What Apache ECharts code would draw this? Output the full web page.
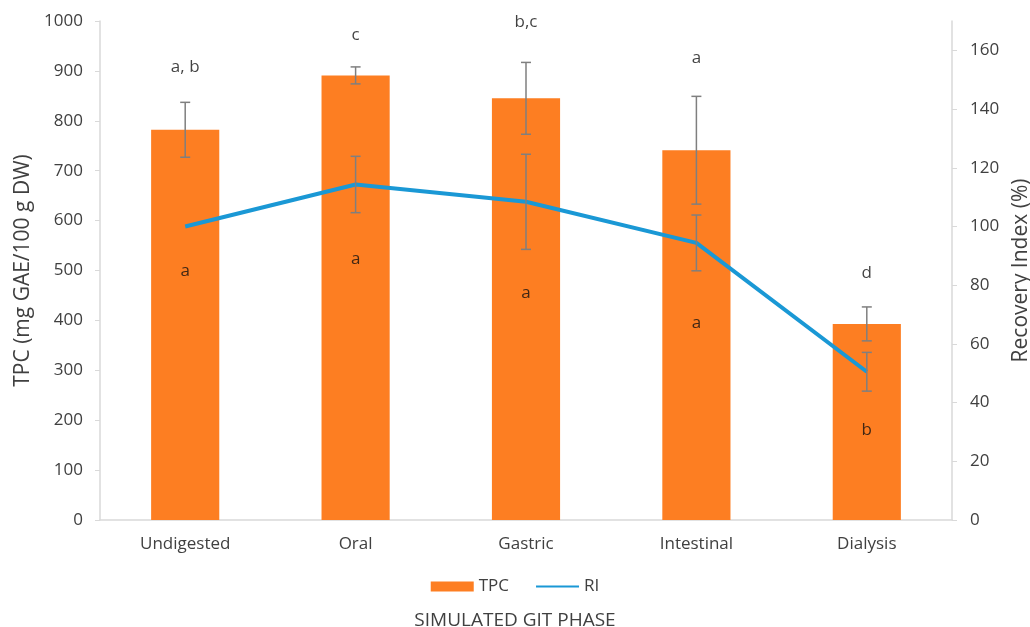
<!DOCTYPE html>
<html>
<head>
<meta charset="utf-8">
<script src="https://cdn.jsdelivr.net/npm/echarts@6/dist/echarts.min.js"></script>
<style>
  html, body { margin: 0; padding: 0; background: #fff; }
  #chart { width: 1030px; height: 627px; }
</style>
</head>
<body>
<div id="chart"></div>
<script>
const phases = ["Undigested", "Oral", "Gastric", "Intestinal", "Dialysis"];
const tpc = [782, 891, 845, 741, 393];
const tpcErr = [55, 17, 72, 108, 34];
const ri = [100, 114.3, 108.4, 94.4, 50.5];
const riErr = [0, 9.6, 16.2, 9.5, 6.6];
const tpcLetters = ["a, b", "c", "b,c", "a", "d"];
const tpcLetterAt = [908, 972, 998, 925, 494];
const riLetters = ["a", "a", "a", "a", "b"];
const riLetterAt = [84.9, 88.8, 77.2, 67.0, 30.7];

const FONT = "Open Sans";
const TXT = "#404040";
const AXIS = "#d9d9d9";

const errData = (vals, errs) =>
  vals.map((v, i) => [i, v - errs[i], v + errs[i]]).filter((d, i) => errs[i] > 0);

// I-beam error bars
const errRender = (params, api) => {
  const x = api.value(0);
  const lo = api.coord([x, api.value(1)]);
  const hi = api.coord([x, api.value(2)]);
  const w = 5;
  const style = { stroke: "#7f7f7f", lineWidth: 1.5 };
  return {
    type: "group",
    children: [
      { type: "line", shape: { x1: lo[0], y1: lo[1], x2: hi[0], y2: hi[1] }, style },
      { type: "line", shape: { x1: lo[0] - w, y1: lo[1], x2: lo[0] + w, y2: lo[1] }, style },
      { type: "line", shape: { x1: hi[0] - w, y1: hi[1], x2: hi[0] + w, y2: hi[1] }, style },
    ],
  };
};

const letterSeries = (yIdx, at, letters) => ({
  type: "scatter",
  yAxisIndex: yIdx,
  symbolSize: 0,
  silent: true,
  z: 10,
  data: at.map((v, i) => [i, v]),
  label: {
    show: true,
    position: "inside",
    formatter: (p) => letters[p.dataIndex],
    color: "#111",
    fontFamily: FONT,
    fontSize: 17,
  },
});

const chart = echarts.init(document.getElementById("chart"));
const option = {
  animation: false,
  backgroundColor: "#fff",
  textStyle: { fontFamily: FONT },
  title: {
    text: "SIMULATED GIT PHASE",
    left: "center",
    top: 606,
    textStyle: { fontFamily: FONT, fontSize: 19, fontWeight: "normal", color: TXT },
  },
  legend: {
    top: 573,
    left: "center",
    itemGap: 26,
    itemWidth: 43,
    itemHeight: 10,
    textStyle: { fontFamily: FONT, fontSize: 17, color: TXT },
    data: [
      { name: "TPC", icon: "rect" },
      { name: "RI", itemStyle: { opacity: 0 } },
    ],
  },
  grid: { left: 100, right: 78, top: 21, bottom: 107, outerBoundsMode: "none", containLabel: false },
  xAxis: {
    type: "category",
    data: phases,
    axisLine: { lineStyle: { color: AXIS, width: 1.5 } },
    axisTick: { show: false },
    axisLabel: { color: TXT, fontSize: 17, fontFamily: FONT, margin: 16 },
  },
  yAxis: [
    {
      type: "value",
      min: 0,
      max: 1000,
      interval: 100,
      name: "TPC (mg GAE/100 g DW)",
      nameLocation: "middle",
      nameGap: 65,
      nameTextStyle: { color: TXT, fontSize: 21, fontFamily: FONT },
      axisLine: { show: true, lineStyle: { color: AXIS, width: 1.5 } },
      axisTick: { show: true, length: 5, lineStyle: { color: AXIS } },
      axisLabel: { color: TXT, fontSize: 17, fontFamily: FONT, margin: 17, formatter: (v) => String(v) },
      splitLine: { show: false },
    },
    {
      type: "value",
      min: 0,
      max: 170,
      interval: 20,
      position: "right",
      name: "Recovery Index (%)",
      nameLocation: "middle",
      nameGap: 58,
      nameTextStyle: { color: TXT, fontSize: 21, fontFamily: FONT },
      axisLine: { show: true, lineStyle: { color: AXIS, width: 1.5 } },
      axisTick: { show: true, length: 5, lineStyle: { color: AXIS } },
      axisLabel: { color: TXT, fontSize: 17, fontFamily: FONT, margin: 18, showMaxLabel: false },
      splitLine: { show: false },
    },
  ],
  series: [
    {
      name: "TPC",
      type: "bar",
      data: tpc,
      barWidth: "40%",
      itemStyle: { color: "#fd7e22" },
    },
    {
      name: "TPC err",
      type: "custom",
      yAxisIndex: 0,
      renderItem: errRender,
      data: errData(tpc, tpcErr),
      encode: { x: 0, y: [1, 2] },
      z: 5,
      silent: true,
    },
    {
      name: "RI",
      type: "line",
      yAxisIndex: 1,
      data: ri,
      symbol: "none",
      color: "#1a98d5",
      lineStyle: { color: "#1a98d5", width: 4 },
      z: 4,
    },
    {
      name: "RI err",
      type: "custom",
      yAxisIndex: 1,
      renderItem: errRender,
      data: errData(ri, riErr),
      encode: { x: 0, y: [1, 2] },
      z: 5,
      silent: true,
    },
    letterSeries(0, tpcLetterAt, tpcLetters),
    letterSeries(1, riLetterAt, riLetters),
  ],
};
chart.setOption(option);
</script>
</body>
</html>
